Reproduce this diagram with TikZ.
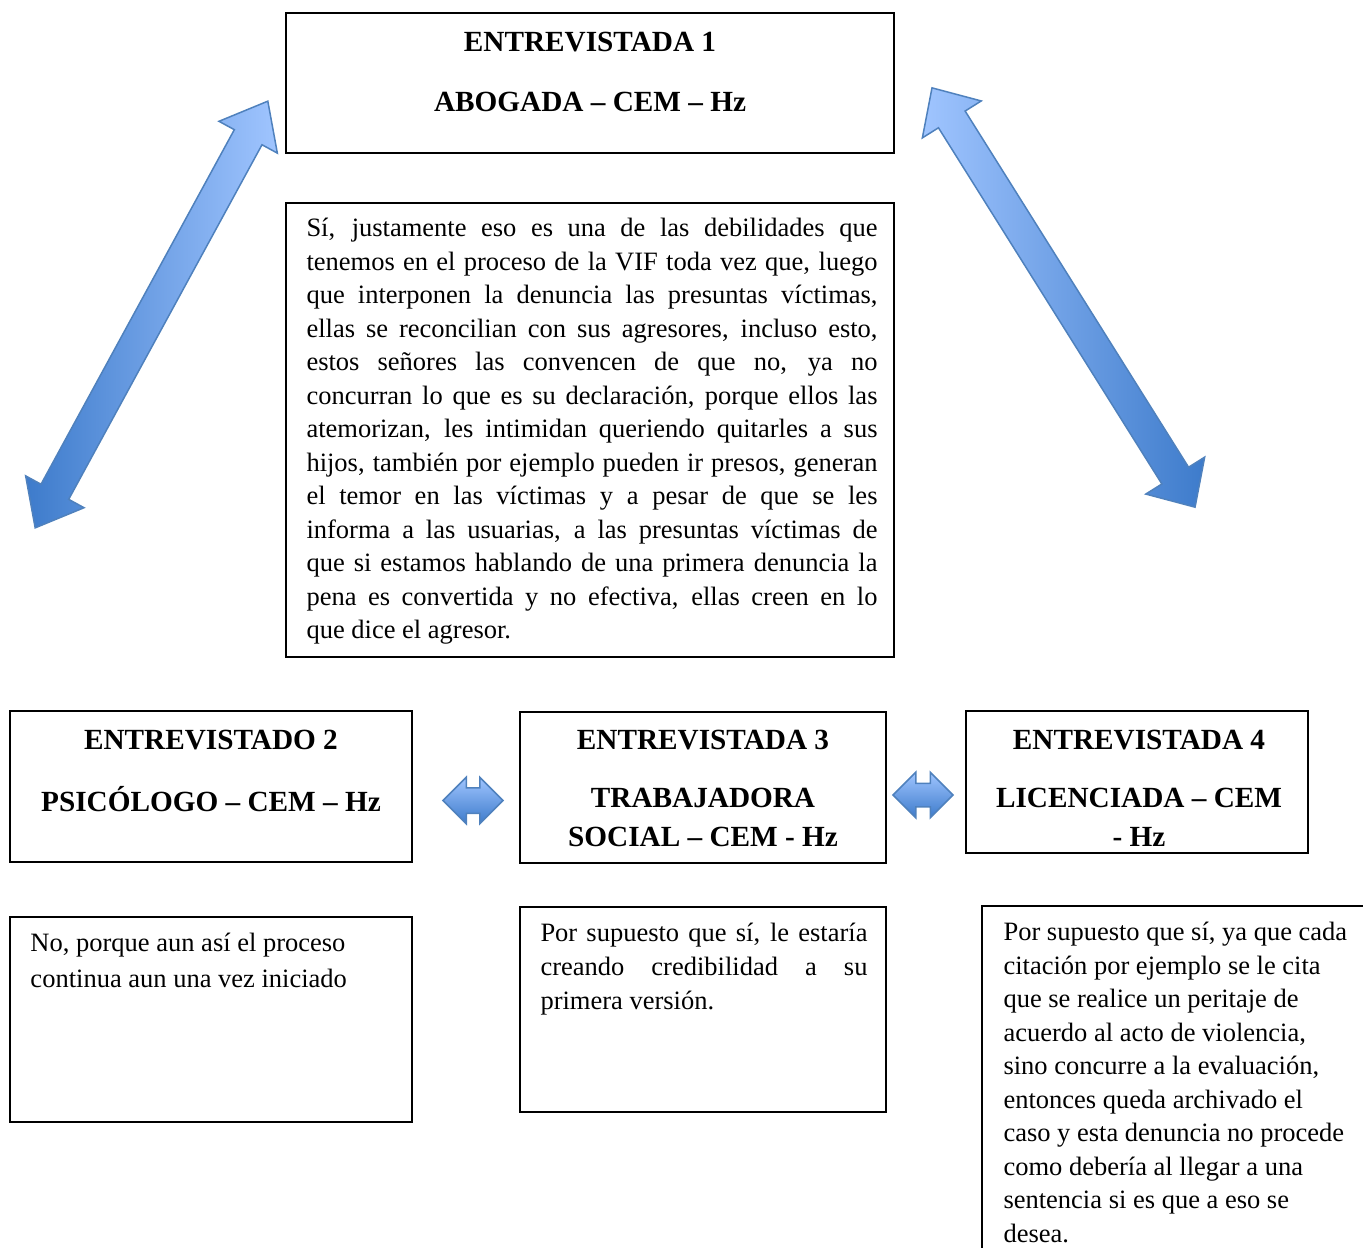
\documentclass[tikz,border=0pt]{standalone}
\usepackage{fontspec}
\setmainfont{Liberation Serif}
\usetikzlibrary{shapes.arrows}
\newcommand{\hdfont}{\fontsize{11.7pt}{15.6pt}\selectfont\bfseries}
\newcommand{\txtfont}{\fontsize{10.6pt}{13.4pt}\selectfont}
\definecolor{arrowline}{HTML}{4F81BD}
\definecolor{arrowlight}{HTML}{A0C5FF}
\definecolor{arrowdark}{HTML}{3D7BCB}
\hbadness=10000
\begin{document}
\begin{tikzpicture}[
  x=0.4pt, y=-0.4pt,
  box/.style={draw, line width=0.5pt, inner sep=0pt},
  hd/.style={font=\hdfont, align=center, inner sep=0pt, anchor=north},
  txt/.style={font=\txtfont, inner sep=0pt, anchor=north west},
  bigarrow/.style={double arrow, draw=arrowline, line width=0.6pt, inner xsep=0pt, inner ysep=6pt},
  hzarrow/.style={double arrow, draw=arrowline, line width=0.6pt, inner xsep=0pt, inner ysep=4.8pt,
    top color=arrowlight, bottom color=arrowdark, minimum height=24pt,
    double arrow tip angle=90},
]
\clip (0,0) rectangle (1363,1247);

% ---------- diagonal arrows ----------
\node[bigarrow, minimum height=194.4pt, double arrow head extend=7pt,
      double arrow tip angle=78, rotate=61.4, left color=arrowdark, right color=arrowlight]
      (a12) at (151.5,314.5) {};
\node[bigarrow, minimum height=198pt, double arrow head extend=7.6pt,
      double arrow tip angle=86, rotate=-57.9, left color=arrowlight, right color=arrowdark]
      (a14) at (1063.5,297.5) {};

% ---------- entrevistada 1 ----------
\node[box, minimum width=243.2pt, minimum height=56pt] (e1) at (590,83) {};
\node[hd] (e1t) at (590,32) {ENTREVISTADA 1\\[8.4pt]ABOGADA – CEM – Hz};
\node[box, minimum width=243.2pt, minimum height=181.6pt] (r1) at (590,430) {};
\node[txt, text width=228.4pt, align=justify] (r1t) at (306,218) {Sí, justamente eso es una de las debilidades que\linebreak
  tenemos en el proceso de la VIF toda vez que, luego\linebreak
  que interponen la denuncia las presuntas víctimas,\linebreak
  ellas se reconcilian con sus agresores, incluso esto,\linebreak
  estos señores las convencen de que no, ya no\linebreak
  concurran lo que es su declaración, porque ellos las\linebreak
  atemorizan, les intimidan queriendo quitarles a sus\linebreak
  hijos, también por ejemplo pueden ir presos, generan\linebreak
  el temor en las víctimas y a pesar de que se les\linebreak
  informa a las usuarias, a las presuntas víctimas de\linebreak
  que si estamos hablando de una primera denuncia la\linebreak
  pena es convertida y no efectiva, ellas creen en lo\linebreak
  que dice el agresor.};

% ---------- entrevistado 2 ----------
\node[box, minimum width=160.8pt, minimum height=60.4pt] (e2) at (211,786.5) {};
\node[hd] (e2t) at (211,730) {ENTREVISTADO 2\\[9.2pt]PSICÓLOGO – CEM – Hz};
\node[box, minimum width=160.8pt, minimum height=82pt] (r2) at (211,1019.5) {};
\node[txt, align=left, font=\fontsize{10.6pt}{14.4pt}\selectfont] (r2t) at (30,933)
  {No, porque aun así el proceso\\continua aun una vez iniciado};

% ---------- entrevistada 3 ----------
\node[box, minimum width=146.4pt, minimum height=60.4pt] (e3) at (703,787.5) {};
\node[hd] (e3t) at (703,730) {ENTREVISTADA 3\\[7.6pt]TRABAJADORA\\SOCIAL – CEM - Hz};
\node[box, minimum width=146.4pt, minimum height=82pt] (r3) at (703,1009.5) {};
\node[txt, text width=130.8pt, align=justify, font=\fontsize{10.6pt}{13.6pt}\selectfont] (r3t) at (540,923)
  {Por supuesto que sí, le estaría\linebreak creando credibilidad a su\linebreak primera versión.};

% ---------- entrevistada 4 ----------
\node[box, minimum width=136.8pt, minimum height=56.8pt] (e4) at (1137,782) {};
\node[hd] (e4t) at (1139,729.5) {ENTREVISTADA 4\\[7.6pt]LICENCIADA – CEM\\- Hz};
\node[box, minimum width=167.2pt, minimum height=153.6pt] (r4) at (1191,1098) {};
\node[txt, align=left] (r4t) at (1003,922)
  {Por supuesto que sí, ya que cada\\citación por ejemplo se le cita\\que se realice un peritaje de\\
   acuerdo al acto de violencia,\\sino concurre a la evaluación,\\entonces queda archivado el\\
   caso y esta denuncia no procede\\como debería al llegar a una\\sentencia si es que a eso se\\desea.};

% ---------- side arrows ----------
\node[hzarrow, double arrow head extend=4.2pt] (a23) at (473,800.5) {};
\node[hzarrow, inner ysep=4.4pt, double arrow head extend=4.4pt] (a34) at (923,795) {};
\end{tikzpicture}
\end{document}
